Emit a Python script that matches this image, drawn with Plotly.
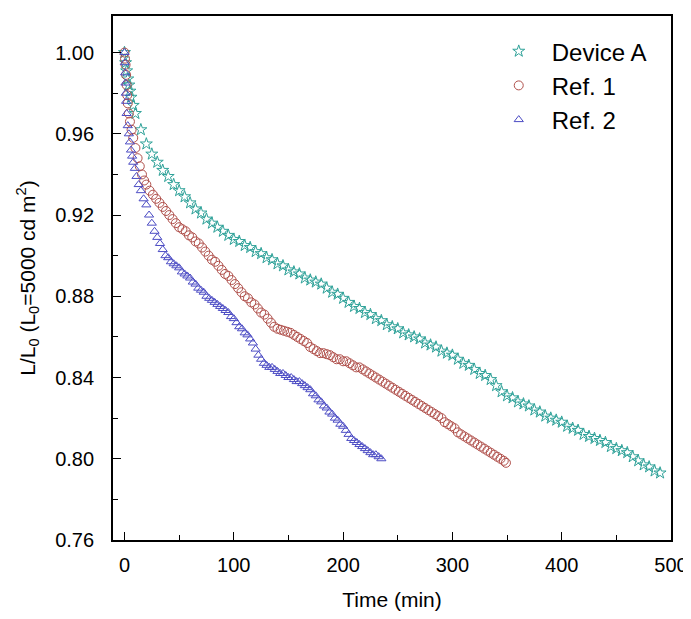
import plotly.graph_objects as go

# ---------------- data ----------------
device_a_t = [0, 1, 2, 3, 4, 5, 6, 8, 10, 15, 20, 25, 30, 35, 40, 45, 50, 55, 60, 65, 70, 75, 80, 85, 90, 95,
              100, 105, 110, 115, 120, 125, 130, 135, 140, 145, 150, 155, 160, 165, 170, 175, 180, 185, 190, 195,
              200, 205, 210, 215, 220, 225, 230, 235, 240, 245, 250, 255, 260, 265, 270, 275, 280, 285, 290, 295,
              300, 305, 310, 315, 320, 325, 330, 335, 340, 345, 350, 355, 360, 365, 370, 375, 380, 385, 390, 395,
              400, 405, 410, 415, 420, 425, 430, 435, 440, 445, 450, 455, 460, 465, 470, 475, 480, 485, 490]
device_a_v = [1.000, 0.995, 0.991, 0.987, 0.984, 0.981, 0.978, 0.974, 0.970, 0.962, 0.955, 0.950, 0.946, 0.942,
              0.939, 0.935, 0.932, 0.929, 0.926, 0.923, 0.921, 0.918, 0.916, 0.914, 0.912, 0.910,
              0.908, 0.907, 0.905, 0.904, 0.902, 0.901, 0.899, 0.898, 0.896, 0.895, 0.893, 0.892, 0.891, 0.889,
              0.888, 0.887, 0.886, 0.884, 0.882, 0.881,
              0.879, 0.877, 0.875, 0.874, 0.872, 0.871, 0.869, 0.868, 0.866, 0.865, 0.864, 0.862, 0.861, 0.860,
              0.859, 0.857, 0.856, 0.855, 0.853, 0.852,
              0.851, 0.849, 0.847, 0.846, 0.844, 0.842, 0.841, 0.839, 0.836, 0.833, 0.831, 0.830, 0.828, 0.827,
              0.826, 0.824, 0.823, 0.821, 0.820, 0.819,
              0.818, 0.816, 0.815, 0.814, 0.812, 0.811, 0.810, 0.809, 0.808, 0.806, 0.805, 0.804, 0.803, 0.801,
              0.799, 0.797, 0.796, 0.794, 0.793]

ref1_t = [0, 0.5, 1, 1.5, 2, 2.5, 3, 4, 5, 6.5, 8, 10, 12, 14, 16, 18, 20, 23, 26, 29, 32, 35, 38, 41, 44, 47,
          50, 53, 56, 59, 62, 65, 68, 71, 74, 77, 80, 83, 86, 89, 92, 95, 98, 101, 104, 107, 110, 113, 116, 119,
          122, 125, 128, 131, 134, 137, 140, 143, 146, 149, 152, 155, 158, 161, 164, 167, 170, 173, 176, 179,
          182, 185, 188, 191, 194, 197, 200, 203, 206, 209, 212, 215, 218, 221, 224, 227, 230, 233, 236, 239,
          242, 245, 248, 251, 254, 257, 260, 263, 266, 269, 272, 275, 278, 281, 284, 287, 290, 293, 296, 299,
          302, 305, 308, 311, 314, 317, 320, 323, 326, 329, 332, 335, 338, 341, 344, 347, 349]
ref1_v = [1.000, 0.997, 0.994, 0.989, 0.984, 0.979, 0.975, 0.970, 0.966, 0.962, 0.958, 0.953, 0.948, 0.944,
          0.940, 0.937, 0.935, 0.932, 0.930, 0.928, 0.926, 0.924, 0.922, 0.920, 0.918, 0.916,
          0.914, 0.913, 0.912, 0.910, 0.909, 0.907, 0.906, 0.904, 0.902, 0.900, 0.898, 0.897, 0.895, 0.893,
          0.891, 0.890, 0.888, 0.886, 0.884, 0.882, 0.880, 0.879, 0.877, 0.876,
          0.874, 0.872, 0.871, 0.869, 0.867, 0.865, 0.864, 0.8635, 0.863, 0.8625, 0.862, 0.861, 0.860, 0.859,
          0.858, 0.857, 0.855, 0.854, 0.853, 0.852,
          0.852, 0.8515, 0.851, 0.850, 0.849, 0.849, 0.848, 0.848, 0.847, 0.846, 0.845, 0.845, 0.844, 0.843,
          0.842, 0.841, 0.840, 0.839, 0.838, 0.837,
          0.836, 0.835, 0.834, 0.833, 0.832, 0.831, 0.830, 0.829, 0.828, 0.827, 0.826, 0.825, 0.824, 0.823,
          0.822, 0.821, 0.820, 0.818, 0.817, 0.816,
          0.815, 0.813, 0.812, 0.811, 0.810, 0.809, 0.808, 0.807, 0.806, 0.805, 0.804, 0.803, 0.802, 0.801,
          0.800, 0.799, 0.798]

ref2_t = [0, 0.3, 0.6, 0.9, 1.2, 1.5, 2, 3, 4, 5, 6, 7, 8, 9.5, 11, 13, 15, 17.5, 20, 22.5, 25, 27.5, 30, 32.5,
          35, 37.5, 40, 42.5, 45, 47.5, 50, 52.5, 55, 57.5, 60, 62.5, 65, 67.5, 70, 72.5, 75, 77.5, 80, 82.5,
          85, 87.5, 90, 92.5, 95, 97.5, 100, 102.5, 105, 107.5, 110, 112.5, 115, 117.5, 120, 122.5, 125, 127.5,
          130, 132.5, 135, 137.5, 140, 142.5, 145, 147.5, 150, 152.5, 155, 157.5, 160, 162.5, 165, 167.5,
          170, 172.5, 175, 177.5, 180, 182.5, 185, 187.5, 190, 192.5, 195, 197.5, 200, 202.5, 205, 207.5,
          210, 212.5, 215, 217.5, 220, 222.5, 225, 227.5, 230, 232.5, 235]
ref2_v = [1.000, 0.995, 0.990, 0.985, 0.980, 0.976, 0.970, 0.964, 0.960, 0.956, 0.952, 0.949, 0.946, 0.943,
          0.939, 0.935, 0.932, 0.928, 0.925, 0.920, 0.916, 0.912, 0.909, 0.906,
          0.903, 0.900, 0.899, 0.897, 0.896, 0.895, 0.894, 0.892, 0.891, 0.890, 0.889, 0.887, 0.886, 0.884,
          0.883, 0.882, 0.880, 0.879, 0.878, 0.877,
          0.876, 0.875, 0.874, 0.873, 0.872, 0.870, 0.869, 0.867, 0.865, 0.864, 0.862, 0.861, 0.859, 0.857,
          0.854, 0.851, 0.849, 0.847,
          0.846, 0.845, 0.845, 0.844, 0.843, 0.842, 0.842, 0.841, 0.840, 0.840, 0.839, 0.838, 0.838, 0.837,
          0.836, 0.835,
          0.834, 0.832, 0.831, 0.829, 0.828, 0.826, 0.825, 0.823, 0.822, 0.820, 0.819, 0.817, 0.816, 0.814,
          0.812, 0.810,
          0.809, 0.808, 0.807, 0.806, 0.805, 0.804, 0.803, 0.802, 0.802, 0.801, 0.800]

series_names = ["Device A", "Ref. 1", "Ref. 2"]
y_ticks = [0.76, 0.80, 0.84, 0.88, 0.92, 0.96, 1.00]
x_ticks = [0, 100, 200, 300, 400, 500]

# ---------------- figure ----------------
FONT = "Liberation Sans, Arial, sans-serif"
fig = go.Figure()

fig.add_trace(go.Scatter(
    x=device_a_t, y=device_a_v, mode="markers", name=series_names[0], legendgroup="a",
    marker=dict(symbol="star-open", size=9, color="#2fa299", line=dict(width=1, color="#2fa299"))))
fig.add_trace(go.Scatter(
    x=ref1_t, y=ref1_v, mode="markers", name=series_names[1], legendgroup="b",
    marker=dict(symbol="circle-open", size=9, color="#b0504b", line=dict(width=1, color="#b0504b"))))
fig.add_trace(go.Scatter(
    x=ref2_t, y=ref2_v, mode="markers", name=series_names[2], legendgroup="c",
    marker=dict(symbol="triangle-up-open", size=8, color="#4c4cc4", line=dict(width=1, color="#4c4cc4"))))

axis_common = dict(
    showgrid=False, zeroline=False, showline=True, linecolor="black", linewidth=1.8, mirror=True,
    ticks="inside", ticklen=8, tickwidth=1.4, tickcolor="black", automargin=False,
    ticklabeloverflow="allow",
    tickfont=dict(family=FONT, size=20, color="black"),
)

fig.update_xaxes(
    range=[-10.5, 500], tickvals=x_ticks, ticktext=[str(v) for v in x_ticks],
    ticklabelstandoff=6,
    minor=dict(dtick=50, tick0=0, ticks="inside", ticklen=5, tickwidth=1.4, tickcolor="black"),
    title=dict(text="Time (min)", font=dict(family=FONT, size=21, color="black"), standoff=19),
    **axis_common)
fig.update_yaxes(
    range=[0.76, 1.018], tickvals=y_ticks, ticktext=[f"{v:.2f}" for v in y_ticks],
    ticklabelstandoff=13,
    minor=dict(dtick=0.02, tick0=0.76, ticks="inside", ticklen=5, tickwidth=1.4, tickcolor="black"),
    title=dict(text="L/L<sub>0</sub> (L<sub>0</sub>=5000 cd m<sup>2</sup>)",
               font=dict(family=FONT, size=21, color="black"), standoff=14),
    **axis_common)

# the page body adds an 8 px offset; the figure is sized so the page does not overflow the window
fig.update_layout(
    width=683, height=603,
    margin=dict(l=105, r=20, t=8, b=71),
    plot_bgcolor="white", paper_bgcolor="white",
    font=dict(family=FONT, color="black"),
    legend=dict(x=0.668, y=0.975, xanchor="left", yanchor="top",
                font=dict(family=FONT, size=24, color="black"),
                bgcolor="rgba(0,0,0,0)", tracegroupgap=0, itemwidth=56),
)

fig.write_html("out.html")
